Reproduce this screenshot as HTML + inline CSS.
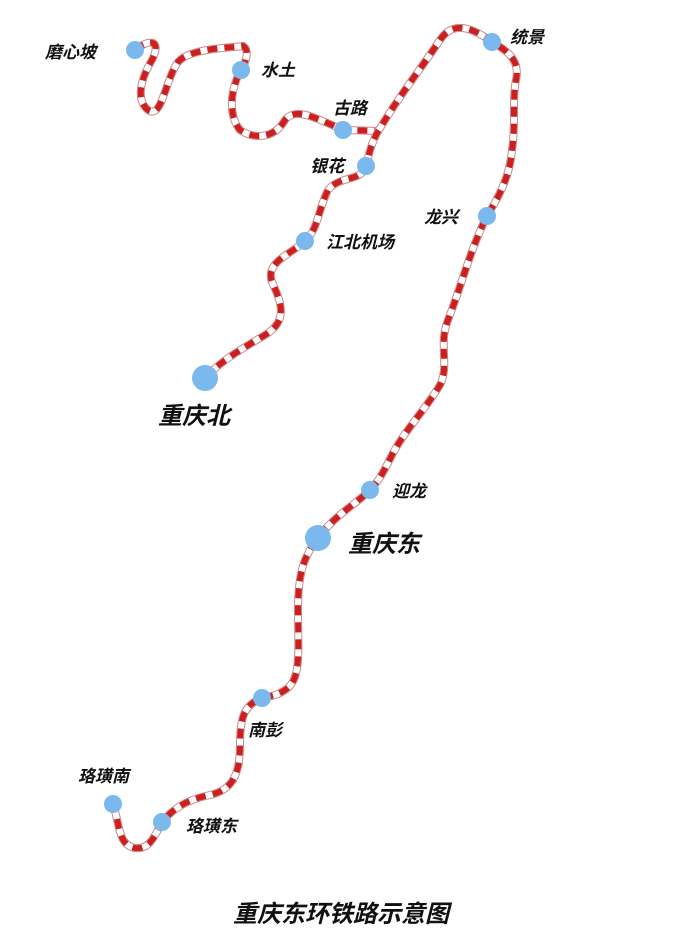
<!DOCTYPE html>
<html><head><meta charset="utf-8"><style>
html,body{margin:0;padding:0;background:#fff;}
svg{display:block}
text{font-family:"Liberation Sans","Noto Sans CJK SC",sans-serif;fill:#111;font-style:italic;font-weight:bold}
</style></head><body>
<svg width="677" height="931" viewBox="0 0 677 931" xmlns="http://www.w3.org/2000/svg">
<g fill="none" stroke-linecap="butt" stroke-linejoin="round">
<path id="p1" d="M135,50 C150,38 162,40 152,60 C140,80 136,100 148,110 C162,120 165,80 178,62 C190,48 230,48 243,46 C250,50 246,62 241,70 C230,90 228,115 240,130 C255,140 275,138 285,120 C295,108 310,115 343,130 L380,131"/>
<path id="p2" d="M205,378 C222,360 240,350 265,335 C290,320 280,300 272,282 C265,262 290,255 305,241 C318,230 318,210 328,190 C340,175 362,182 366,166 C370,150 372,140 382,125 C400,95 420,70 440,40 C450,25 465,22 492,42 C510,52 520,62 516,80 C512,100 516,125 512,150 C510,175 500,195 487,216 C470,250 460,290 448,320 C438,345 450,365 440,385 C425,410 405,430 392,455 C382,475 378,482 370,490 C355,505 335,515 318,538 C305,555 298,570 298,610 C298,650 302,680 285,690 C275,697 268,696 262,698 C245,705 240,715 240,745 C240,775 232,790 210,795 C185,800 172,810 162,822 C155,835 150,850 135,848 C118,845 120,825 113,804"/>
</g>
<g fill="none">
<use href="#p1" stroke="#c88" stroke-width="8"/>
<use href="#p1" stroke="#fff" stroke-width="6"/>
<use href="#p1" stroke="#cc1f1f" stroke-width="6" stroke-dasharray="10 7"/>
<use href="#p2" stroke="#c88" stroke-width="8"/>
<use href="#p2" stroke="#fff" stroke-width="6"/>
<use href="#p2" stroke="#cc1f1f" stroke-width="6" stroke-dasharray="10 7"/>
</g>
<g fill="#7ab8ee">
<circle cx="135" cy="50" r="9"/>
<circle cx="241" cy="70" r="9"/>
<circle cx="343" cy="130" r="9"/>
<circle cx="366" cy="166" r="9"/>
<circle cx="305" cy="241" r="9"/>
<circle cx="492" cy="42" r="9"/>
<circle cx="487" cy="216" r="9"/>
<circle cx="205" cy="378" r="13"/>
<circle cx="370" cy="490" r="9"/>
<circle cx="318" cy="538" r="13"/>
<circle cx="262" cy="698" r="9"/>
<circle cx="162" cy="822" r="9"/>
<circle cx="113" cy="804" r="9"/>
</g>
<g font-size="17">
<text x="45" y="58">磨心坡</text>
<text x="261" y="76">水土</text>
<text x="333" y="114">古路</text>
<text x="310" y="172">银花</text>
<text x="326" y="248">江北机场</text>
<text x="510" y="43">统景</text>
<text x="424" y="223">龙兴</text>
<text x="392" y="497">迎龙</text>
<text x="248" y="736">南彭</text>
<text x="186" y="832">珞璜东</text>
<text x="78" y="782">珞璜南</text>
</g>
<g font-size="24">
<text x="158" y="424">重庆北</text>
<text x="348" y="552">重庆东</text>
</g>
<text x="233" y="922" font-size="24">重庆东环铁路示意图</text>
</svg>
</body></html>
